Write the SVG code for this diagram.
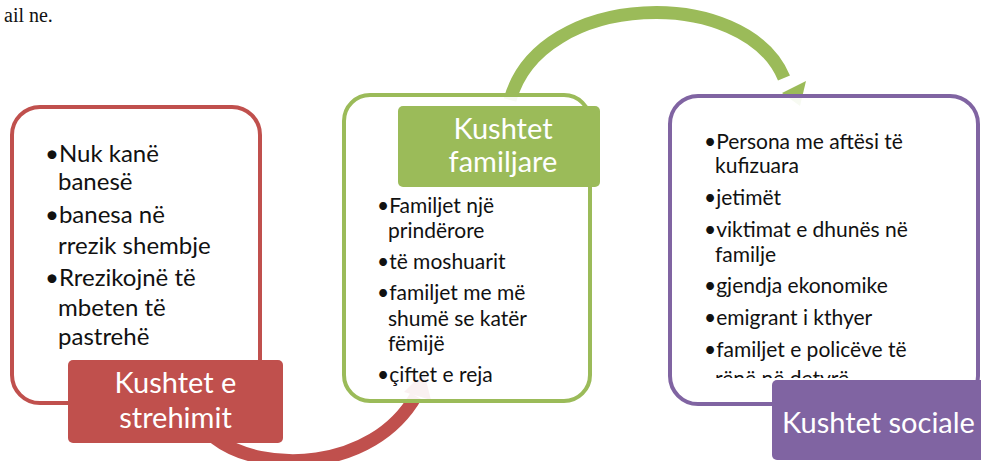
<svg xmlns="http://www.w3.org/2000/svg" width="981" height="461" viewBox="0 0 981 461">
<defs>
<style>
.box{fill:#ffffff;fill-opacity:0.92;stroke-width:4}
.lbl{stroke:none}
.t{font-family:Lato,"Open Sans","Liberation Sans",sans-serif;fill:#111}
.lt{font-family:Lato,"Open Sans","Liberation Sans",sans-serif;fill:#ffffff;text-anchor:middle}
.arc{fill:none;stroke-width:13}
</style>
<clipPath id="clipS"><rect x="670" y="96" width="311" height="282"/></clipPath>
</defs>
<text x="4" y="22" font-family="'Liberation Serif',serif" font-size="20" fill="#111">ail ne.</text>
<g id="connectors">
<path class="arc" stroke="#C0504D" d="M 215 438 C 262 474, 372 472, 416 396"/>
<polygon fill="#C0504D" points="404,392 431,400 424,372"/>
<path class="arc" stroke="#9BBB59" d="M 510 100 C 540 -10, 745 -15, 784 78"/>
<polygon fill="#9BBB59" points="782,93 806,81 800,106"/>
</g>
<g id="node-strehimit">
<rect class="box" x="12" y="107" width="248" height="296" rx="28" stroke="#C0504D"/>
<g class="t" font-size="24">
<text x="45" y="162">•Nuk kanë</text>
<text x="58" y="190">banesë</text>
<text x="45" y="223">•banesa në</text>
<text x="58" y="254">rrezik shembje</text>
<text x="45" y="286">•Rrezikojnë të</text>
<text x="58" y="316">mbeten të</text>
<text x="58" y="345">pastrehë</text>
</g>
<rect class="lbl" x="68" y="360" width="215" height="83" rx="5" fill="#C0504D"/>
<text class="lt" x="175.5" y="393" font-size="29">Kushtet e</text>
<text class="lt" x="175.5" y="428" font-size="29">strehimit</text>
</g>
<g id="node-familjare">
<rect class="box" x="344" y="95" width="246" height="306" rx="26" stroke="#9BBB59"/>
<g class="t" font-size="21">
<text x="377" y="213">•Familjet një</text>
<text x="388" y="238">prindërore</text>
<text x="377" y="269">•të moshuarit</text>
<text x="377" y="300">•familjet me më</text>
<text x="388" y="326">shumë se katër</text>
<text x="388" y="351">fëmijë</text>
<text x="377" y="382">•çiftet e reja</text>
</g>
<rect class="lbl" x="398" y="106" width="202" height="81" rx="5" fill="#9BBB59"/>
<text class="lt" x="503" y="139" font-size="29">Kushtet</text>
<text class="lt" x="503" y="172" font-size="29">familjare</text>
</g>
<g id="node-sociale">
<rect class="box" x="670" y="96" width="308" height="308" rx="28" stroke="#8064A2"/>
<g class="t" font-size="21" clip-path="url(#clipS)">
<text x="704" y="149">•Persona me aftësi të</text>
<text x="715" y="173">kufizuara</text>
<text x="704" y="205">•jetimët</text>
<text x="704" y="237">•viktimat e dhunës në</text>
<text x="715" y="262">familje</text>
<text x="704" y="293">•gjendja ekonomike</text>
<text x="704" y="325">•emigrant i kthyer</text>
<text x="704" y="357">•familjet e policëve të</text>
<text x="715" y="386">rënë në detyrë</text>
</g>
<rect class="lbl" x="772" y="380" width="220" height="80" rx="5" fill="#8064A2"/>
<text x="782" y="433" font-size="29" font-family="Lato,'Open Sans','Liberation Sans',sans-serif" fill="#ffffff">Kushtet sociale</text>
</g>
</svg>
